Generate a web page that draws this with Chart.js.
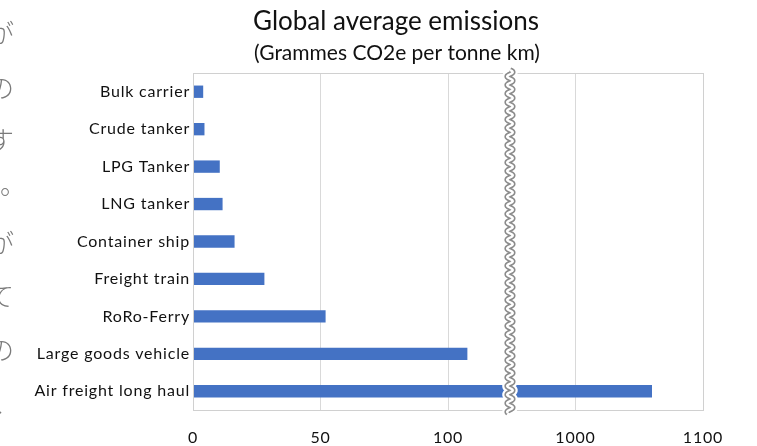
<!DOCTYPE html>
<html>
<head>
<meta charset="utf-8">
<script src="https://cdn.jsdelivr.net/npm/chart.js@4/dist/chart.umd.min.js"></script>
<style>
  html, body { margin: 0; padding: 0; background: #fff; }
  #wrap { position: relative; width: 757px; height: 446px; overflow: hidden; }
  canvas { position: absolute; left: 0; top: 0; }
  .jp { position: absolute; left: -12px; font-family: "Noto Sans CJK JP"; font-weight: 300; font-size: 26px; color: #7a7a7a; line-height: 1; }
</style>
</head>
<body>
<div id="wrap">
  <canvas id="c" width="757" height="446"></canvas>
  <span class="jp" style="top:19px">が</span>
  <span class="jp" style="top:74px">の</span>
  <span class="jp" style="top:126px">す</span>
  <span class="jp" style="top:170px;left:0px">。</span>
  <span class="jp" style="top:229px">が</span>
  <span class="jp" style="top:282px">て</span>
  <span class="jp" style="top:336px">の</span>
  <span class="jp" style="top:388px;left:-7px">、</span>
</div>
<script>
// ---- data ----
const categories = ["Bulk carrier", "Crude tanker", "LPG Tanker", "LNG tanker", "Container ship",
                    "Freight train", "RoRo-Ferry", "Large goods vehicle", "Air freight long haul"];
const emissions = [4, 4.5, 10.5, 11.6, 16.3, 28, 52, 107.6, 1060];
const xTickValues = [0, 50, 100, 1000, 1100];
const xTickLabels = ["0", "50", "100", "1000", "1100"];
const titleText = "Global average emissions";
const subtitleText = "(Grammes CO2e per tonne km)";

// broken axis: lower segment 0..~124 (1:1), upper segment ~949..1100 (2:1 compression, 1000 -> 150)
const breakPos = 124.3;
function toAxis(v) { return v > 500 ? 150 + (v - 1000) / 2 : v; }

const tickPosToLabel = {};
xTickValues.forEach((v, i) => { tickPosToLabel[toAxis(v)] = xTickLabels[i]; });

const FONT = "Lato";

const decor = {
  id: 'decor',
  beforeDraw(chart) {
    const ctx = chart.ctx;
    ctx.fillStyle = '#fff';
    ctx.fillRect(0, 0, chart.width, chart.height);
    ctx.letterSpacing = '0.8px';
  },
  afterDatasetsDraw(chart) {
    const ctx = chart.ctx;
    const a = chart.chartArea;
    const xs = chart.scales.x;
    ctx.save();
    ctx.strokeStyle = '#d0d0d0';
    ctx.lineWidth = 1;
    ctx.strokeRect(Math.round(a.left) + 0.5, Math.round(a.top) + 0.5,
                   Math.round(a.right - a.left), Math.round(a.bottom - a.top));
    // break symbol
    const bx = xs.getPixelForValue(breakPos);
    const y0 = a.top - 3, y1 = a.bottom + 3;
    const period = 8.6, amp = 2.8;
    ctx.beginPath();
    for (let y = y0; y <= y1; y += 0.5) {
      const x = bx + amp * Math.sin((y - y0) / period * 2 * Math.PI);
      if (y === y0) ctx.moveTo(x, y); else ctx.lineTo(x, y);
    }
    ctx.lineJoin = 'round';
    ctx.strokeStyle = '#ffffff';
    ctx.lineWidth = 10;
    ctx.stroke();
    ctx.strokeStyle = '#8c8c8c';
    ctx.lineWidth = 5.6;
    ctx.stroke();
    ctx.strokeStyle = '#ffffff';
    ctx.lineWidth = 2.4;
    ctx.stroke();
    ctx.restore();
  },
  afterDraw(chart) {
    const ctx = chart.ctx;
    ctx.save();
    ctx.letterSpacing = '0px';
    ctx.fillStyle = '#111';
    ctx.textAlign = 'center';
    ctx.textBaseline = 'middle';
    ctx.font = `26px ${FONT}`;
    ctx.fillText(titleText, 396, 22);
    ctx.font = `21px ${FONT}`;
    ctx.fillText(subtitleText, 397, 53);
    ctx.restore();
  }
};

new Chart(document.getElementById('c'), {
  type: 'bar',
  data: {
    labels: categories,
    datasets: [{
      data: emissions.map(toAxis),
      backgroundColor: '#4472c4',
      borderWidth: 0,
      barPercentage: 0.66,
      categoryPercentage: 0.5
    }]
  },
  options: {
    indexAxis: 'y',
    responsive: false,
    animation: false,
    layout: { padding: { left: 0, right: 54, top: 73, bottom: 0 } },
    plugins: { legend: { display: false }, title: { display: false }, tooltip: { enabled: false } },
    scales: {
      x: {
        type: 'linear',
        min: 0, max: 200,
        afterBuildTicks(scale) {
          scale.ticks = xTickValues.map(v => ({ value: toAxis(v) }));
        },
        afterFit(scale) { scale.height = 36; },
        grid: { color: '#d9d9d9', drawTicks: false, lineWidth: 1 },
        border: { display: false },
        ticks: {
          padding: 18,
          color: '#111',
          font: { family: FONT, size: 16 },
          callback: (v) => tickPosToLabel[v] ?? ''
        }
      },
      y: {
        afterFit(scale) { scale.width = 193; },
        grid: { display: false, drawTicks: false },
        border: { display: false },
        ticks: {
          padding: 3,
          color: '#111',
          font: { family: FONT, size: 16 }
        }
      }
    }
  },
  plugins: [decor]
});
</script>
</body>
</html>
